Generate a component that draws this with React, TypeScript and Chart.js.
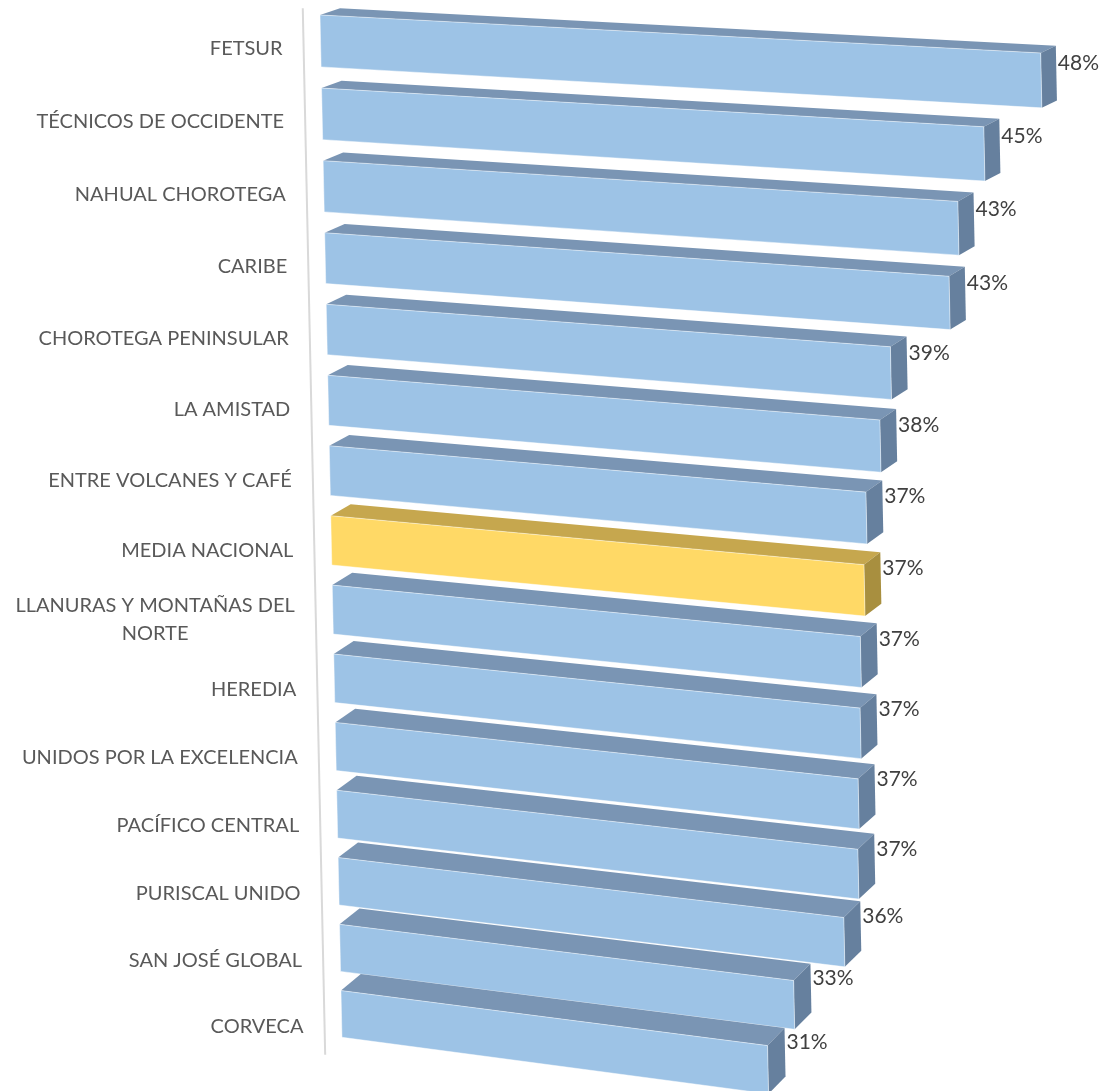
import React, { useEffect, useRef } from 'react';
import { Chart, registerables } from 'chart.js';

Chart.register(...registerables);

const categories: (string | string[])[] = [
  'FETSUR',
  'TÉCNICOS DE OCCIDENTE',
  'NAHUAL CHOROTEGA',
  'CARIBE',
  'CHOROTEGA PENINSULAR',
  'LA AMISTAD',
  'ENTRE VOLCANES Y CAFÉ',
  'MEDIA NACIONAL',
  ['LLANURAS Y MONTAÑAS DEL', 'NORTE'],
  'HEREDIA',
  'UNIDOS POR LA EXCELENCIA',
  'PACÍFICO CENTRAL',
  'PURISCAL UNIDO',
  'SAN JOSÉ GLOBAL',
  'CORVECA',
];

const values: number[] = [48.1, 44.7, 43.1, 42.5, 39.0, 38.3, 37.4, 37.2, 36.9, 36.8, 36.6, 36.5, 35.6, 32.6, 31.0];

const highlightIndex = 7; // MEDIA NACIONAL
const axisMin = 6.2;
const axisMax = 50;

const frontBlue = '#9DC3E6';
const topBlue = '#7A95B4';
const sideBlue = '#66809E';
const frontGold = '#FFD966';
const topGold = '#C6A74E';
const sideGold = '#A88F3F';

const frontColors = values.map((_, i) => (i === highlightIndex ? frontGold : frontBlue));
const topColors = values.map((_, i) => (i === highlightIndex ? topGold : topBlue));
const sideColors = values.map((_, i) => (i === highlightIndex ? sideGold : sideBlue));

const LABEL_FONT = '20px Lato, "Liberation Sans", sans-serif';
const VALUE_FONT = '21px Lato, "Liberation Sans", sans-serif';

// perspective projection parameters
const S0 = 4.3;
const SH = 1042.5;
const Q = 0.057;
const KX = 0.0215;
const SL0 = 0.0516;
const SL1 = 7.81e-5;

function makeMap(area: any) {
  const H = area.bottom - area.top;
  const map = (X: number, Y: number) => {
    const v = (Y - area.top) / H;
    const yl = S0 + SH * (v + Q * v * (1 - v));
    const d = X - area.left;
    return { x: area.left + KX * (yl - 15) + d, y: yl + (SL0 + SL1 * yl) * d };
  };
  const depth = (p: { x: number; y: number }, v: number) => {
    const d = p.x - area.left;
    return {
      x: p.x + 20 - 0.0068 * d,
      y: p.y - (6.3 + 10.5 * v) * (1 + 0.1 * d / 720),
    };
  };
  return { map, depth, H };
}

function quad(ctx: CanvasRenderingContext2D, pts: { x: number; y: number }[], fill: string, stroke?: string) {
  ctx.beginPath();
  ctx.moveTo(pts[0].x, pts[0].y);
  for (let i = 1; i < pts.length; i++) ctx.lineTo(pts[i].x, pts[i].y);
  ctx.closePath();
  ctx.fillStyle = fill;
  ctx.fill();
  if (stroke) {
    ctx.strokeStyle = stroke;
    ctx.lineWidth = 1;
    ctx.stroke();
  }
}

const perspective3D = {
  id: 'perspective3D',
  beforeDatasetDraw() {
    return false;
  },
  afterDatasetsDraw(chart: any) {
    const ctx: CanvasRenderingContext2D = chart.ctx;
    const area = chart.chartArea;
    const xs = chart.scales.x;
    const { map, depth, H } = makeMap(area);
    const meta = chart.getDatasetMeta(0);
    const ds = chart.data.datasets[0];
    const basePx = xs.getPixelForValue(axisMin);

    ctx.save();
    // category axis line
    const a0 = map(basePx, area.top);
    const a1 = map(basePx, area.bottom);
    ctx.strokeStyle = '#D9D9D9';
    ctx.lineWidth = 2;
    ctx.beginPath();
    ctx.moveTo(a0.x - 17, a0.y + 4);
    ctx.lineTo(a1.x - 17, a1.y + 8);
    ctx.stroke();

    meta.data.forEach((bar: any, i: number) => {
      const props = bar.getProps(['y', 'height'], true);
      const endPx = xs.getPixelForValue(values[i]);
      const top = props.y - props.height / 2;
      const bottom = props.y + props.height / 2;
      const v = (props.y - area.top) / H;
      const ftl = map(basePx, top);
      const ftr = map(endPx, top);
      const fbr = map(endPx, bottom);
      const fbl = map(basePx, bottom);
      const btl = depth(ftl, v);
      const btr = depth(ftr, v);
      const bbr = depth(fbr, v);
      // top face
      quad(ctx, [ftl, ftr, btr, btl], topColors[i]);
      // right face
      quad(ctx, [ftr, fbr, bbr, btr], sideColors[i]);
      // front face
      quad(ctx, [ftl, ftr, fbr, fbl], (ds.backgroundColor as string[])[i], 'rgba(255,255,255,0.45)');

      // value label
      ctx.font = VALUE_FONT;
      ctx.fillStyle = '#404040';
      ctx.textAlign = 'left';
      ctx.textBaseline = 'middle';
      ctx.fillText(Math.round(values[i]) + '%', btr.x + 2, ftr.y + 10.5 - 14 * v);

      // category label
      const c = map(basePx, props.y);
      const rx = c.x - 38;
      const cy = c.y + 7 + 6 * v;
      ctx.font = LABEL_FONT;
      ctx.fillStyle = '#595959';
      const lab = categories[i];
      if (Array.isArray(lab)) {
        const lh = 28;
        const w0 = ctx.measureText(lab[0]).width;
        const centerX = rx - w0 / 2;
        ctx.textAlign = 'center';
        lab.forEach((line, k) => {
          ctx.fillText(line, centerX, cy + (k - (lab.length - 1) / 2) * lh);
        });
      } else {
        ctx.textAlign = 'right';
        ctx.fillText(lab, rx, cy);
      }
    });
    ctx.restore();
  },
};

export default function App() {
  const ref = useRef<HTMLCanvasElement | null>(null);
  useEffect(() => {
    document.body.style.margin = '0';
    if (!ref.current) return;
    const chart = new Chart(ref.current, {
      type: 'bar',
      data: {
        labels: categories as any,
        datasets: [
          {
            data: values,
            backgroundColor: frontColors,
            borderWidth: 0,
            barPercentage: 0.71,
            categoryPercentage: 1,
          },
        ],
      },
      options: {
        indexAxis: 'y',
        responsive: true,
        maintainAspectRatio: false,
        animation: false,
        layout: { padding: { left: 320, right: 28.6, top: 0, bottom: 0 } },
        scales: {
          x: { display: false, min: axisMin, max: axisMax },
          y: { display: false },
        },
        plugins: { legend: { display: false }, tooltip: { enabled: false } },
      },
      plugins: [perspective3D as any],
    });
    return () => chart.destroy();
  }, []);
  return (
    <div style={{ position: 'fixed', left: 0, top: 0, width: 1102, height: 1091, background: '#FFFFFF' }}>
      <canvas ref={ref} />
    </div>
  );
}
